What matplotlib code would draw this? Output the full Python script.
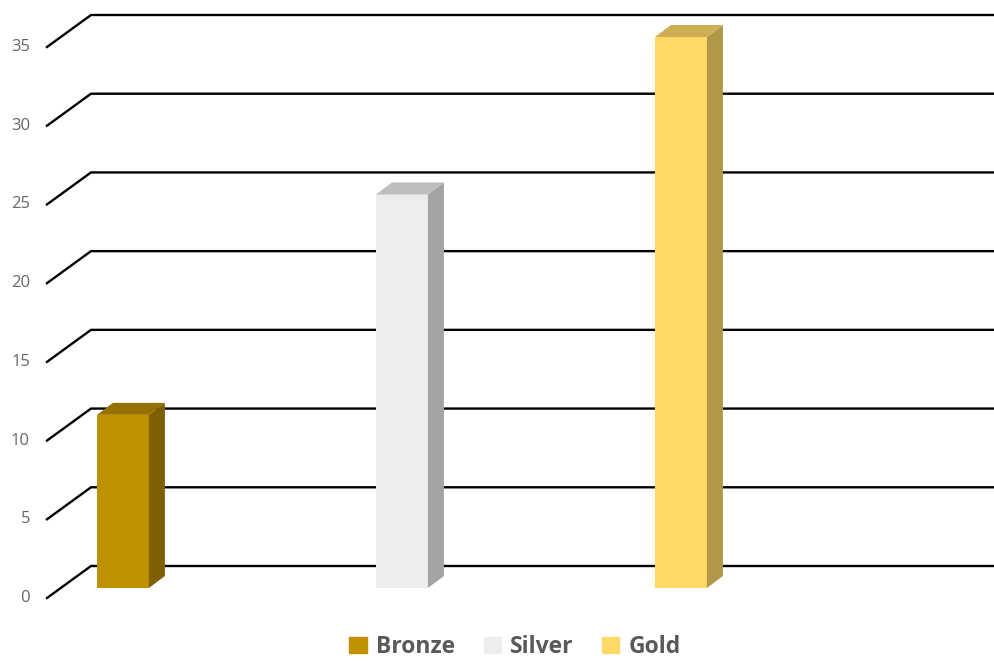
import numpy as np
import matplotlib.pyplot as plt
from matplotlib.patches import Polygon, Patch

plt.rcParams['font.family'] = ['Open Sans', 'DejaVu Sans']

medals = ['Bronze', 'Silver', 'Gold']
counts = [11, 25, 35]
ticks = np.arange(0, 40, 5)
front_colors = ['#BF9000', '#EDEDED', '#FFD966']
side_colors = ['#7F6000', '#A3A3A3', '#B09848']
top_colors = ['#957100', '#BEBEBE', '#CDAE55']

W, H = 995, 662
fig = plt.figure(figsize=(W / 100, H / 100), dpi=100)

# front plane of the 3d box (pixels): left edge x=47, value 0 at y=598, 35 at y=47
left, right, bottom, top = 47, 951, 598, 47
ax = fig.add_axes([left / W, (H - bottom) / H, (right - left) / W, (bottom - top) / H])
ax.set_xlim(-0.222, 3.018)
ax.set_ylim(0, 35)
ax.axis('off')

# depth offsets in pixels (dx, dy) for the walls and bars
back_wall = (44, 32)
bar_front = (14, 10)
bar_depth = (16, 12)


def shift(x, y, dx, dy):
    px, py = ax.transData.transform((x, y))
    return ax.transData.inverted().transform((px + dx, py + dy))


# gridlines: diagonal on the floor side, then flat along the back wall
x0, x1 = ax.get_xlim()
for t in ticks:
    b = shift(x0, t, *back_wall)
    c = shift(x1, t, *back_wall)
    ax.plot([x0, b[0], c[0]], [t, b[1], c[1]], color='black', lw=1.7,
            clip_on=False, solid_joinstyle='miter', zorder=1)
    ax.annotate(str(t), (x0, t), xytext=(-17, 0), textcoords='offset pixels',
                ha='right', va='center', fontsize=12, color='#666666')

w = 0.186
ox, oy = shift(0, 0, *bar_front)
for i, v in enumerate(counts):
    ax.bar(i + ox, v, width=w, bottom=oy, color=front_colors[i], zorder=3, clip_on=False)
    lx, rx = i + ox - w / 2, i + ox + w / 2
    ty = v + oy
    side = [(rx, oy), (rx, ty), shift(rx, ty, *bar_depth), shift(rx, oy, *bar_depth)]
    topf = [(lx, ty), (rx, ty), shift(rx, ty, *bar_depth), shift(lx, ty, *bar_depth)]
    ax.add_patch(Polygon(side, closed=True, color=side_colors[i], zorder=3, clip_on=False, lw=0))
    ax.add_patch(Polygon(topf, closed=True, color=top_colors[i], zorder=3, clip_on=False, lw=0))

handles = [Patch(color=front_colors[i], label=m) for i, m in enumerate(medals)]
leg = fig.legend(handles=handles, loc='center', ncol=3, frameon=False,
                 bbox_to_anchor=(515 / W, 15 / H),
                 prop={'size': 16.5, 'weight': 'bold'},
                 handlelength=0.75, handleheight=0.75, handletextpad=0.4,
                 columnspacing=1.25)
for txt in leg.get_texts():
    txt.set_color('#595959')

plt.savefig('out.png', dpi=100)
